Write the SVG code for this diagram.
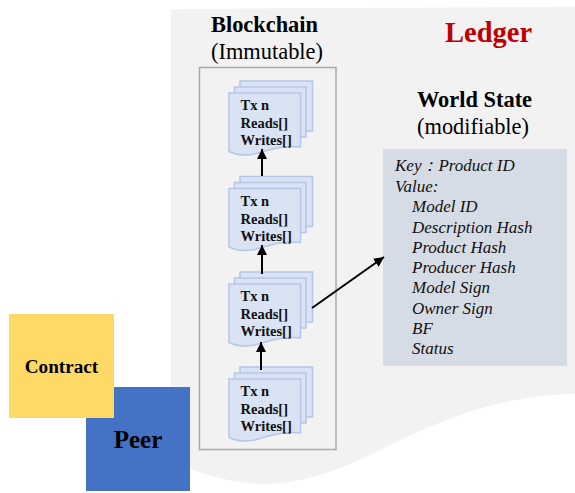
<svg xmlns="http://www.w3.org/2000/svg" width="575" height="493" viewBox="0 0 575 493">
<style>
text{font-family:"Liberation Serif","Times New Roman",serif;fill:#000}
.d{fill:#dae3f3;stroke:#b4c7e7;stroke-width:1.5}
.t{font-size:14.500px;font-weight:bold;fill:#111}
.i{font-size:17px;font-style:italic;fill:#111}
.h{font-size:22.400px;text-anchor:middle}
.c{fill:none;stroke:#000;stroke-width:2}
</style>
<defs>
<marker id="a" markerUnits="userSpaceOnUse" markerWidth="12" markerHeight="12" refX="10" refY="5" orient="auto"><path d="M0 0L10 5L0 10Z" fill="#000"/></marker>
<g id="doc">
<rect class="d" x="240" y="81" width="72.500" height="50"/>
<rect class="d" x="234.500" y="87" width="71.500" height="50"/>
<path class="d" d="M229 93H300.500V147C282 145 268 150 255 154C245 156 236 155 229 151.500Z"/>
<text class="t" x="240.500" y="110">Tx n</text>
<text class="t" x="240.500" y="128">Reads[]</text>
<text class="t" x="240.500" y="145">Writes[]</text>
</g>
</defs>
<g id="ledger">
<path d="M171 9L575 7V394C500 395 440 420 380 450C340 470 300 484 265 484C235 484 205 475 171 462Z" fill="#f2f2f2"/>
<text x="488.500" y="42" font-size="28.500" font-weight="bold" text-anchor="middle" style="fill:#c00000">Ledger</text>
</g>
<g id="blockchain">
<rect x="199.500" y="67.500" width="136.500" height="382" fill="none" stroke="#a9a9a9" stroke-width="1.500"/>
<text class="h" x="264.500" y="32" font-weight="bold">Blockchain</text>
<text class="h" x="267" y="59">(Immutable)</text>
</g>
<g id="block-1"><use href="#doc"/></g>
<g id="block-2"><use href="#doc" y="95.500"/></g>
<g id="block-3"><use href="#doc" y="191"/></g>
<g id="block-4"><use href="#doc" y="286"/></g>
<g id="world-state">
<text class="h" x="474.500" y="107" font-weight="bold">World State</text>
<text class="h" x="473" y="134">(modifiable)</text>
<rect x="383" y="149" width="184" height="217" fill="#d6dce5"/>
<text class="i" x="395" y="171">Key：Product ID</text>
<text class="i" x="395" y="192">Value:</text>
<text class="i" x="412" y="212">Model ID</text>
<text class="i" x="412" y="233">Description Hash</text>
<text class="i" x="412" y="253">Product Hash</text>
<text class="i" x="412" y="273">Producer Hash</text>
<text class="i" x="412" y="293">Model Sign</text>
<text class="i" x="412" y="314">Owner Sign</text>
<text class="i" x="412" y="334">BF</text>
<text class="i" x="412" y="354">Status</text>
</g>
<g id="peer">
<rect x="86" y="387" width="104" height="104" fill="#4472c4"/>
<text x="138" y="448" font-size="25" font-weight="bold" text-anchor="middle">Peer</text>
</g>
<g id="contract">
<rect x="9" y="314" width="105" height="104" fill="#ffd966"/>
<text x="61.500" y="373" font-size="19.200" font-weight="bold" text-anchor="middle">Contract</text>
</g>
<g id="connectors">
<path class="c" marker-end="url(#a)" d="M262 176V149"/>
<path class="c" marker-end="url(#a)" d="M262 274V245"/>
<path class="c" marker-end="url(#a)" d="M261 370V342"/>
<path class="c" marker-end="url(#a)" d="M312 308L384 257"/>
</g>
</svg>
